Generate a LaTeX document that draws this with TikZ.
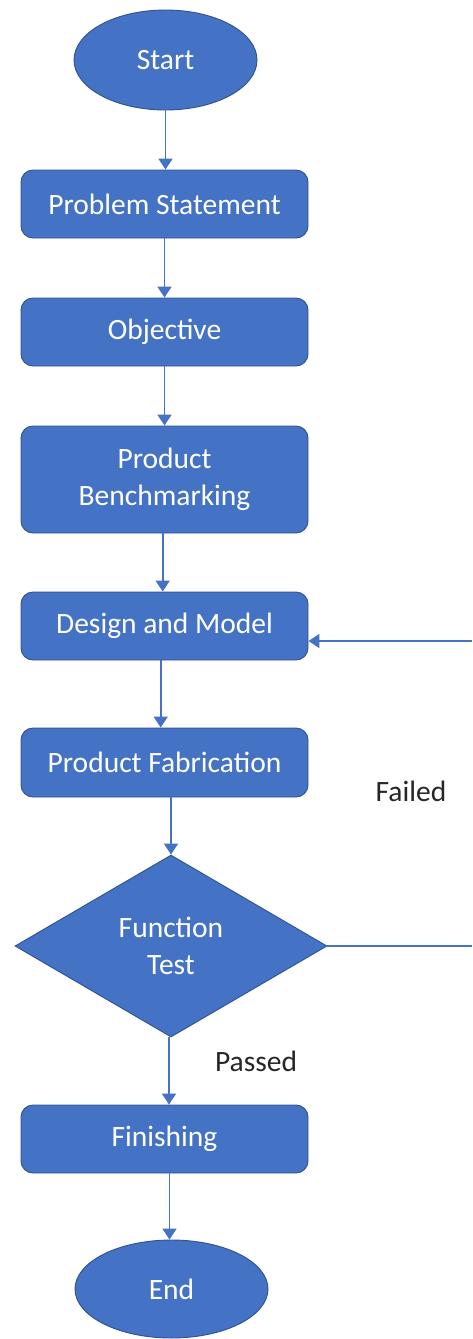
\documentclass[tikz,border=0pt]{standalone}
\usepackage{fontspec}
\setmainfont{Carlito}
\usetikzlibrary{shapes.geometric,arrows.meta}
\definecolor{ofblue}{HTML}{4472C4}
\definecolor{ofedge}{HTML}{2F528F}
\definecolor{lbl}{HTML}{262626}
\tikzset{
  x=1pt, y=-1pt,
  base/.style={fill=ofblue, draw=ofedge, line width=0.9pt, text=white, inner sep=0pt, align=center, font=\fontsize{29.5}{37}\selectfont},
  term/.style={base, ellipse},
  procbox/.style={base, rectangle, rounded corners=12pt, minimum width=287pt},
  decide/.style={base, diamond, minimum width=312pt, minimum height=182pt, aspect=1.71},
  arr/.style={draw=ofblue, line width=1.8pt, -{Triangle[width=14pt,length=11pt]}},
  ln/.style={draw=ofblue, line width=1.8pt},
  lab/.style={text=lbl, font=\fontsize{29.5}{34}\selectfont, inner sep=0pt}
}
\begin{document}
\begin{tikzpicture}
\useasboundingbox (0,0) rectangle (472,1339);
\node[term, minimum width=183pt, minimum height=100pt] (start) at (165.5,60) {Start};
\node[procbox, minimum height=68pt] (ps) at (164.5,204) {Problem Statement};
\node[procbox, minimum height=68pt] (obj) at (164.5,332) {Objective};
\node[procbox, minimum height=107pt] (bench) at (164.5,479.5) {Product\\Benchmarking};
\node[procbox, minimum height=68pt] (design) at (164.5,626) {Design and Model};
\node[procbox, minimum height=69pt] (fab) at (164.5,762.5) {Product Fabrication};
\node[decide] (test) at (171,946) {Function\\Test};
\node[procbox, minimum height=68pt] (fin) at (164.5,1139) {Finishing};
\node[term, minimum width=193pt, minimum height=98pt] (end) at (171.5,1289) {End};

\node[lab] (failed) at (411,791) {Failed};
\node[lab] (passed) at (256,1061) {Passed};

\coordinate (rin) at (472,641);
\coordinate (rout) at (test.east -| rin);

\draw[arr] (start.south) -- (start.south |- ps.north);
\draw[arr] (ps.south) -- (obj.north);
\draw[arr] (obj.south) -- (bench.north);
\draw[arr] ([xshift=-1.8pt]bench.south) -- ([xshift=-1.8pt]design.north);
\draw[arr] ([xshift=-3.8pt]design.south) -- ([xshift=-3.8pt]fab.north);
\draw[arr] (test.north |- fab.south) -- (test.north);
\draw[arr] ([xshift=-2pt]test.south) -- ([xshift=-2pt]test.south |- fin.north);
\draw[arr] ([xshift=-2pt]end.north |- fin.south) -- ([xshift=-2pt]end.north);
\draw[ln] (test.east) -- (rout);
\draw[arr] (rin) -- (rin -| design.east);
\end{tikzpicture}
\end{document}
